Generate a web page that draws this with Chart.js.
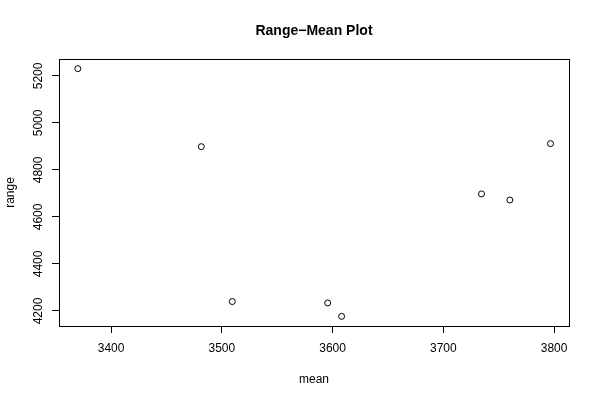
<!DOCTYPE html>
<html>
<head>
<meta charset="utf-8">
<script src="https://cdn.jsdelivr.net/npm/chart.js@4"></script>
<style>
  html, body { margin: 0; padding: 0; background: #fff; }
  #wrap { width: 600px; height: 400px; }
</style>
</head>
<body>
<div id="wrap"><canvas id="grafica" width="600" height="400"></canvas></div>
<script>
// valores
const medias = [3370, 3481.5, 3509.5, 3595.6, 3608.2, 3734.5, 3760.1, 3796.8];
const rangos = [5231, 4899, 4240, 4234, 4177, 4698, 4672, 4912];
const ticksX = [3400, 3500, 3600, 3700, 3800];
const ticksY = [4200, 4400, 4600, 4800, 5000, 5200];

const FUENTE = "'Liberation Sans', Arial, Helvetica, sans-serif";

// caja completa alrededor del area de trazado (estilo R)
const cajaPlugin = {
    id: 'caja',
    afterLayout(chart) {
        // centrar el titulo sobre el area de trazado, como hace R
        const tb = chart.titleBlock;
        if (tb) {
            tb.left = chart.chartArea.left;
            tb.right = chart.chartArea.right;
            tb.width = tb.right - tb.left;
        }
    },
    afterDraw(chart) {
        const { ctx, chartArea } = chart;
        ctx.save();
        ctx.strokeStyle = '#000';
        ctx.lineWidth = 1;
        ctx.strokeRect(chartArea.left + 0.5, chartArea.top + 0.5,
            chartArea.right - chartArea.left, chartArea.bottom - chartArea.top);
        ctx.restore();
    }
};

const puntos = medias.map((m, i) => ({ x: m, y: rangos[i] }));

new Chart(document.getElementById('grafica'), {
    type: 'scatter',
    data: {
        datasets: [{
            data: puntos,
            pointStyle: 'circle',
            pointRadius: 3,
            pointHoverRadius: 3,
            borderColor: '#000',
            backgroundColor: 'rgba(0,0,0,0)',
            borderWidth: 1
        }]
    },
    options: {
        responsive: false,
        animation: false,
        layout: { padding: { top: 0, left: 0, right: 31, bottom: 0 } },
        scales: {
            x: {
                type: 'linear',
                min: 3353,
                max: 3813.5,
                afterBuildTicks: s => { s.ticks = ticksX.map(v => ({ value: v })); },
                afterFit: s => { s.height = 74; },
                border: { display: false },
                grid: { drawOnChartArea: false, drawTicks: true, tickLength: 7, color: '#000' },
                ticks: { color: '#000', padding: 8, maxRotation: 0, callback: v => String(v), font: { family: FUENTE, size: 12 } },
                title: { display: true, text: 'mean', color: '#000', padding: { top: 0, bottom: 13 }, font: { family: FUENTE, size: 12 } }
            },
            y: {
                type: 'linear',
                min: 4136,
                max: 5272,
                afterBuildTicks: s => { s.ticks = ticksY.map(v => ({ value: v })); },
                afterFit: s => { s.width = 59; },
                border: { display: false },
                grid: { drawOnChartArea: false, drawTicks: true, tickLength: 7, color: '#000' },
                ticks: { color: '#000', padding: 0, minRotation: 90, maxRotation: 90, crossAlign: 'center', callback: v => String(v), font: { family: FUENTE, size: 12 } },
                title: { display: true, text: 'range', color: '#000', padding: { top: 3, bottom: 0 }, font: { family: FUENTE, size: 12 } }
            }
        },
        plugins: {
            legend: { display: false },
            tooltip: { enabled: false },
            title: {
                display: true,
                text: 'Range\u2212Mean Plot',
                color: '#000',
                padding: { top: 23, bottom: 19.2 },
                font: { family: FUENTE, size: 14, weight: 'bold', lineHeight: 1.2 }
            }
        }
    },
    plugins: [cajaPlugin]
});
</script>
</body>
</html>
